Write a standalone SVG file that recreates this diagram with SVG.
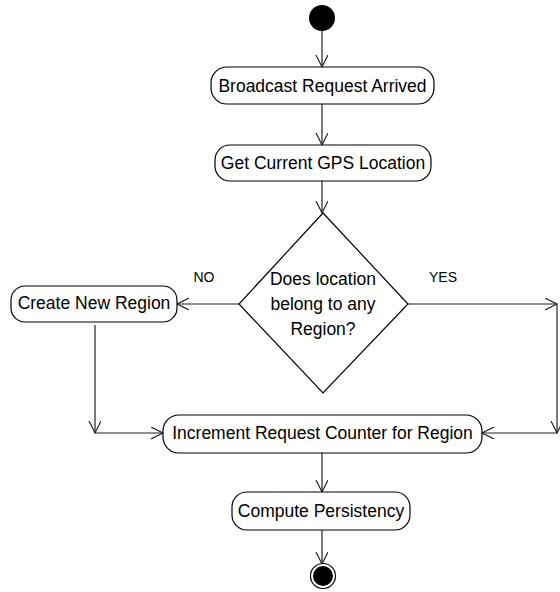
<svg xmlns="http://www.w3.org/2000/svg" width="560" height="592" viewBox="0 0 560 592">
  <style>
    .node rect { fill: #fff; stroke: #000; stroke-width: 1.2; }
    .node polygon { fill: #fff; stroke: #000; stroke-width: 1.2; }
    .label { font-family: "Liberation Sans", Arial, sans-serif; font-size: 17.5px; fill: #000; text-anchor: middle; }
    .guard { font-family: "Liberation Sans", Arial, sans-serif; font-size: 14px; fill: #000; text-anchor: middle; }
    .edge { fill: none; stroke: #222; stroke-width: 1.2; marker-end: url(#open-arrow); }
  </style>
  <defs>
    <marker id="open-arrow" markerUnits="userSpaceOnUse" markerWidth="14" markerHeight="14" refX="12" refY="6" orient="auto">
      <path d="M0,0 L12,6 L0,12" fill="none" stroke="#222" stroke-width="1.2"/>
    </marker>
  </defs>

  <rect width="560" height="592" fill="#fff"/>

  <g id="connectors">
    <path class="edge" d="M322,31 L322,67"/>
    <path class="edge" d="M322,104 L322,145"/>
    <path class="edge" d="M322,181 L322,213"/>
    <path class="edge" d="M239,304 L177,304"/>
    <path class="edge" d="M408,304 L557,304"/>
    <path class="edge" d="M557,304 L557,433"/>
    <path class="edge" d="M557,433 L482,433"/>
    <path class="edge" d="M95,325 L95,433"/>
    <path class="edge" d="M95,433 L163,433"/>
    <path class="edge" d="M322,453 L322,492"/>
    <path class="edge" d="M322,530 L322,564"/>
    <text class="guard" x="204" y="282">NO</text>
    <text class="guard" x="443" y="282">YES</text>
  </g>

  <g id="start">
    <circle cx="322" cy="18" r="13" fill="#000"/>
  </g>

  <g id="broadcast" class="node">
    <rect x="211" y="67" width="223" height="37" rx="16"/>
    <text class="label" x="322.5" y="92">Broadcast Request Arrived</text>
  </g>

  <g id="gps" class="node">
    <rect x="215" y="145" width="216" height="36" rx="15"/>
    <text class="label" x="323" y="169">Get Current GPS Location</text>
  </g>

  <g id="decision" class="node">
    <polygon points="323,213 408,304 323,393 239,304"/>
    <text class="label" x="323" y="285">Does location</text>
    <text class="label" x="323" y="310">belong to any</text>
    <text class="label" x="323" y="335">Region?</text>
  </g>

  <g id="create-region" class="node">
    <rect x="11" y="286" width="166" height="36" rx="14"/>
    <text class="label" x="94" y="309">Create New Region</text>
  </g>

  <g id="increment" class="node">
    <rect x="163" y="415" width="319" height="38" rx="16"/>
    <text class="label" x="322.5" y="439">Increment Request Counter for Region</text>
  </g>

  <g id="persistency" class="node">
    <rect x="232" y="492" width="178" height="38" rx="15"/>
    <text class="label" x="321" y="517">Compute Persistency</text>
  </g>

  <g id="end">
    <circle cx="323" cy="576" r="12.5" fill="#fff" stroke="#000" stroke-width="1.2"/>
    <circle cx="323" cy="576" r="10" fill="#000"/>
  </g>
</svg>
